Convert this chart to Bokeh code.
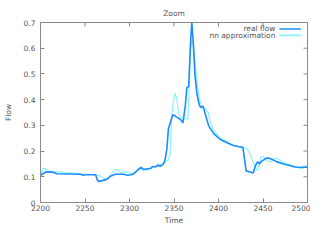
import math
from bokeh.plotting import figure
from bokeh.models import Range1d, FixedTicker, Label, BoxAnnotation
from bokeh.embed import file_html
from bokeh.resources import INLINE

time_real = [2200, 2202, 2205.5, 2213, 2216, 2218, 2245, 2248, 2251, 2262, 2264, 2265.5, 2269,
             2274.5, 2278, 2284, 2293, 2298, 2302, 2305.5, 2310, 2313, 2316, 2324, 2326, 2329,
             2332, 2334.5, 2338, 2340, 2342, 2343.7, 2347.4, 2349, 2352.8, 2355, 2358, 2360,
             2362.7, 2364.4, 2366.6, 2368.4, 2370, 2371.4, 2373.6, 2375.8, 2378.3, 2380, 2382.6,
             2385.5, 2389, 2394.6, 2402, 2409, 2416.5, 2422, 2427.4, 2429.3, 2431, 2436.5, 2439,
             2441, 2443, 2444.5, 2445.6, 2449, 2454.7, 2460, 2465.6, 2473, 2480, 2485.6, 2494.7,
             2498.4, 2500]
flow_real = [0.106, 0.11, 0.118, 0.118, 0.116, 0.112, 0.11, 0.106, 0.108, 0.108, 0.087, 0.082, 0.085,
             0.09, 0.101, 0.11, 0.11, 0.106, 0.108, 0.114, 0.129, 0.136, 0.129, 0.132, 0.14, 0.138,
             0.146, 0.141, 0.149, 0.167, 0.209, 0.286, 0.328, 0.342, 0.333, 0.328, 0.32, 0.31,
             0.375, 0.446, 0.452, 0.611, 0.70, 0.635, 0.493, 0.422, 0.381, 0.369, 0.375,
             0.339, 0.298, 0.268, 0.245, 0.233, 0.222, 0.218, 0.215, 0.168, 0.123, 0.118, 0.115,
             0.138, 0.154, 0.158, 0.15, 0.162, 0.174, 0.168, 0.158, 0.15, 0.144, 0.138, 0.136,
             0.138, 0.135]

time_nn = [2200, 2201, 2203, 2205.5, 2209, 2214.5, 2220, 2227, 2238, 2249, 2260, 2265.5, 2270, 2274,
           2277.5, 2281, 2284, 2287, 2291, 2294.5, 2299, 2303, 2307, 2311, 2314.5, 2320, 2324, 2327,
           2333, 2336, 2340, 2343.7, 2345.5, 2346.6, 2347.4, 2349, 2351, 2352.8, 2355, 2358, 2362,
           2365.5, 2366.6, 2368, 2370, 2372, 2373.6, 2375.8, 2378.3, 2382, 2385.5, 2388.4, 2391,
           2394.6, 2402, 2416.5, 2427.4, 2431, 2434, 2438.4, 2442, 2444, 2445.6, 2448, 2450, 2452.7,
           2456.5, 2460, 2463.8, 2467.4, 2473, 2480, 2487.4, 2493, 2495.6, 2498.4, 2500]
flow_nn = [0.102, 0.114, 0.134, 0.132, 0.122, 0.118, 0.12, 0.116, 0.114, 0.11, 0.108, 0.106, 0.096, 0.09,
           0.096, 0.12, 0.129, 0.126, 0.114, 0.12, 0.118, 0.11, 0.12, 0.132, 0.126, 0.126, 0.138, 0.141,
           0.141, 0.149, 0.158, 0.165, 0.186, 0.268, 0.339, 0.386, 0.424, 0.41, 0.351, 0.328, 0.328,
           0.322, 0.4, 0.564, 0.628, 0.611, 0.552, 0.47, 0.404, 0.369, 0.363, 0.351, 0.31,
           0.28, 0.251, 0.223, 0.212, 0.213, 0.198, 0.162, 0.133, 0.123, 0.147, 0.177, 0.18, 0.168,
           0.158, 0.162, 0.172, 0.168, 0.156, 0.147, 0.138, 0.133, 0.144, 0.142, 0.138]

x_ticks = [2200, 2250, 2300, 2350, 2400, 2450, 2500]
y_ticks = [0, 0.1, 0.2, 0.3, 0.4, 0.5, 0.6, 0.7]
series_names = ["real flow", "nn approximation"]
series_colors = ["#1e8cff", "#88f4ff"]

FONT = "DejaVu Sans"
GRAY = "#555555"
FRAME = "#8a8a8a"
FS = "7.5px"

x_min, x_max = x_ticks[0], x_ticks[-1]
y_min, y_max = y_ticks[0], y_ticks[-1]

p = figure(width=310, height=227, output_backend="svg", toolbar_location=None,
           x_range=Range1d(x_min, x_max), y_range=Range1d(y_min, y_max),
           min_border_left=39, min_border_right=3, min_border_top=22, min_border_bottom=0,
           x_axis_label="Time", y_axis_label="Flow", title="Zoom")

p.title.align = "center"
p.title.text_font = FONT
p.title.text_font_size = FS
p.title.text_font_style = "normal"
p.title.text_color = GRAY
p.title.standoff = 10

p.grid.visible = False
p.outline_line_color = FRAME

for ax in [p.xaxis[0], p.yaxis[0]]:
    ax.axis_line_color = FRAME
    ax.major_tick_line_color = FRAME
    ax.major_tick_in = 4
    ax.major_tick_out = 0
    ax.minor_tick_line_color = None
    ax.major_label_text_font = FONT
    ax.major_label_text_font_size = FS
    ax.major_label_text_color = GRAY
    ax.axis_label_text_font = FONT
    ax.axis_label_text_font_size = FS
    ax.axis_label_text_font_style = "normal"
    ax.axis_label_text_color = GRAY

p.xaxis[0].ticker = FixedTicker(ticks=x_ticks)
p.yaxis[0].ticker = FixedTicker(ticks=y_ticks)
p.xaxis[0].major_label_standoff = 2
p.xaxis[0].axis_label_standoff = 2
p.yaxis[0].major_label_standoff = 5
p.yaxis[0].axis_label_standoff = 8

# mirrored inward ticks on the right and top borders (gnuplot style)
p.ray(x=[x_max] * len(y_ticks), y=y_ticks, length=4, length_units="screen",
      angle=math.pi, line_color=FRAME, line_width=1)
p.ray(x=x_ticks, y=[y_max] * len(x_ticks), length=4, length_units="screen",
      angle=-math.pi / 2, line_color=FRAME, line_width=1)

p.line(time_nn, flow_nn, line_color=series_colors[1], line_width=1.2)
p.line(time_real, flow_real, line_color=series_colors[0], line_width=1.6)

# gnuplot-style key: text right-aligned, sample line to its right
key_y = [0.675, 0.65]
for name, color, ky in zip(series_names, series_colors, key_y):
    p.add_layout(Label(x=2464, y=ky, text=name, text_align="right", text_baseline="middle",
                       text_font=FONT, text_font_size=FS, text_color=GRAY))
    p.add_layout(BoxAnnotation(left=2468.5, right=2492.5, bottom=ky - 0.003, top=ky + 0.003,
                               fill_color=color, fill_alpha=1, line_color=None))

open("out.html", "w").write(file_html(p, INLINE))
